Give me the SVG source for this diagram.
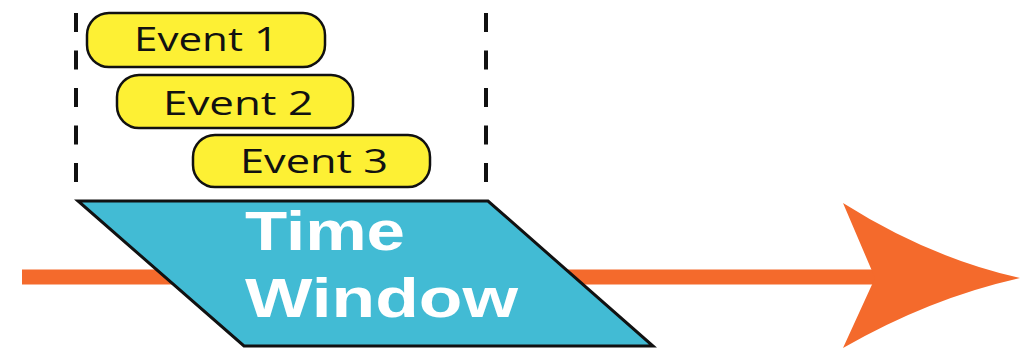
<svg xmlns="http://www.w3.org/2000/svg" width="1020" height="350" viewBox="0 0 1020 350">
<style>
.evt{fill:#FDF034;stroke:#111;stroke-width:2.5}
.evt-t{font-family:"Open Sans",sans-serif;font-size:32px;fill:#111}
.win-t{font-family:"Liberation Sans",Arial,sans-serif;font-size:56px;font-weight:bold;fill:#fff}
.dash{stroke:#111;stroke-width:4;stroke-dasharray:19 18.5;fill:none}
</style>
<rect width="1020" height="350" fill="#fff"/>
<g id="connectors">
<line x1="22" y1="277" x2="880" y2="277" stroke="#F46A2C" stroke-width="15"/>
<path d="M843,203 Q930,258 1020,278 Q930,298 843,348 L875,278 Z" fill="#F46A2C"/>
<line class="dash" x1="76" y1="13" x2="76" y2="185"/>
<line class="dash" x1="486" y1="13" x2="486" y2="185"/>
</g>
<g id="time-window">
<polygon points="78,201 488,201 653,346 244,346" fill="#42BBD4" stroke="#111" stroke-width="3" stroke-linejoin="miter"/>
<text class="win-t" x="245" y="250" textLength="160" lengthAdjust="spacingAndGlyphs">Time</text>
<text class="win-t" x="245" y="317" textLength="273" lengthAdjust="spacingAndGlyphs">Window</text>
</g>
<g id="event1">
<rect class="evt" x="87" y="13" width="238" height="54" rx="22"/>
<text class="evt-t" x="134" y="51" textLength="144" lengthAdjust="spacingAndGlyphs">Event 1</text>
</g>
<g id="event2">
<rect class="evt" x="117" y="75" width="236" height="53" rx="22"/>
<text class="evt-t" x="163" y="115" textLength="150" lengthAdjust="spacingAndGlyphs">Event 2</text>
</g>
<g id="event3">
<rect class="evt" x="193" y="135" width="237" height="52" rx="22"/>
<text class="evt-t" x="240" y="173" textLength="148" lengthAdjust="spacingAndGlyphs">Event 3</text>
</g>
</svg>
